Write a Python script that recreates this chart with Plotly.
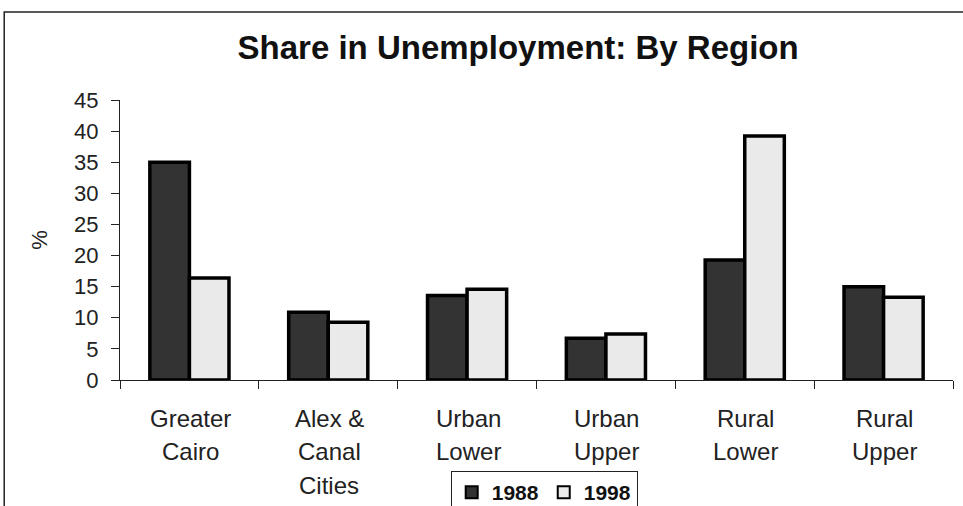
import plotly.graph_objects as go

# Share of unemployment by region, 1988 vs 1998 (%)
regions = ["Greater Cairo", "Alex & Canal Cities", "Urban Lower",
           "Urban Upper", "Rural Lower", "Rural Upper"]
region_lines = [["Greater", "Cairo"], ["Alex &", "Canal", "Cities"],
                ["Urban", "Lower"], ["Urban", "Upper"],
                ["Rural", "Lower"], ["Rural", "Upper"]]
share_1988 = [35.0, 10.9, 13.6, 6.7, 19.3, 15.0]
share_1998 = [16.4, 9.3, 14.6, 7.4, 39.2, 13.3]
y_ticks = [0, 5, 10, 15, 20, 25, 30, 35, 40, 45]

FONT = "Liberation Sans, Arial, sans-serif"
INK = "#111111"

fig = go.Figure()
fig.add_trace(go.Bar(
    x=regions, y=share_1988, name="1988",
    marker=dict(color="#333333", line=dict(color="#000000", width=3.5)),
))
fig.add_trace(go.Bar(
    x=regions, y=share_1998, name="1998",
    marker=dict(color="#EAEAEA", line=dict(color="#000000", width=3.5)),
))

# multi-line category labels under the axis
line_offsets = [38, 71, 105]
annotations = []
for name, lines in zip(regions, region_lines):
    for i, txt in enumerate(lines):
        annotations.append(dict(
            x=name, xref="x", y=0, yref="y", yanchor="middle",
            yshift=-line_offsets[i], xshift=1, text=txt, showarrow=False,
            font=dict(family=FONT, size=24, color="#222222"),
        ))

fig.update_layout(
    width=963, height=506,
    margin=dict(l=120, r=10, t=100, b=126, autoexpand=False),
    paper_bgcolor="white", plot_bgcolor="white",
    barmode="group", bargap=0.43, bargroupgap=0,
    title=dict(text="<b>Share in Unemployment: By Region</b>",
               x=0.538, xanchor="center", y=0.907, yanchor="middle",
               font=dict(family=FONT, size=33, color=INK)),
    showlegend=True,
    legend=dict(orientation="h", x=0.397, xanchor="left", y=-0.325,
                yanchor="top", bordercolor="#222222", borderwidth=1,
                bgcolor="white",
                font=dict(family=FONT, size=21, color=INK, weight="bold"),
                itemsizing="constant", traceorder="normal"),
    annotations=annotations,
    shapes=[dict(type="path", xref="paper", yref="paper",
                 path="M -0.139 -1 L -0.139 1.314 L 1.1 1.314",
                 line=dict(color="#222222", width=1.5))],
)

fig.update_xaxes(
    showticklabels=False, showline=True, linecolor="#222222", linewidth=1,
    ticks="outside", tickson="boundaries", ticklen=8, tickcolor="#222222",
    showgrid=False, zeroline=False,
)
fig.update_yaxes(
    range=[0, 45], tickvals=y_ticks, showline=True, linecolor="#222222",
    linewidth=1, ticks="outside", ticklen=8, tickcolor="#222222",
    ticklabelstandoff=8,
    showgrid=False, zeroline=False,
    tickfont=dict(family=FONT, size=22, color="#222222"),
    title=dict(text="%", font=dict(family=FONT, size=22, color="#222222"),
               standoff=20),
)

fig.write_html("out.html")
